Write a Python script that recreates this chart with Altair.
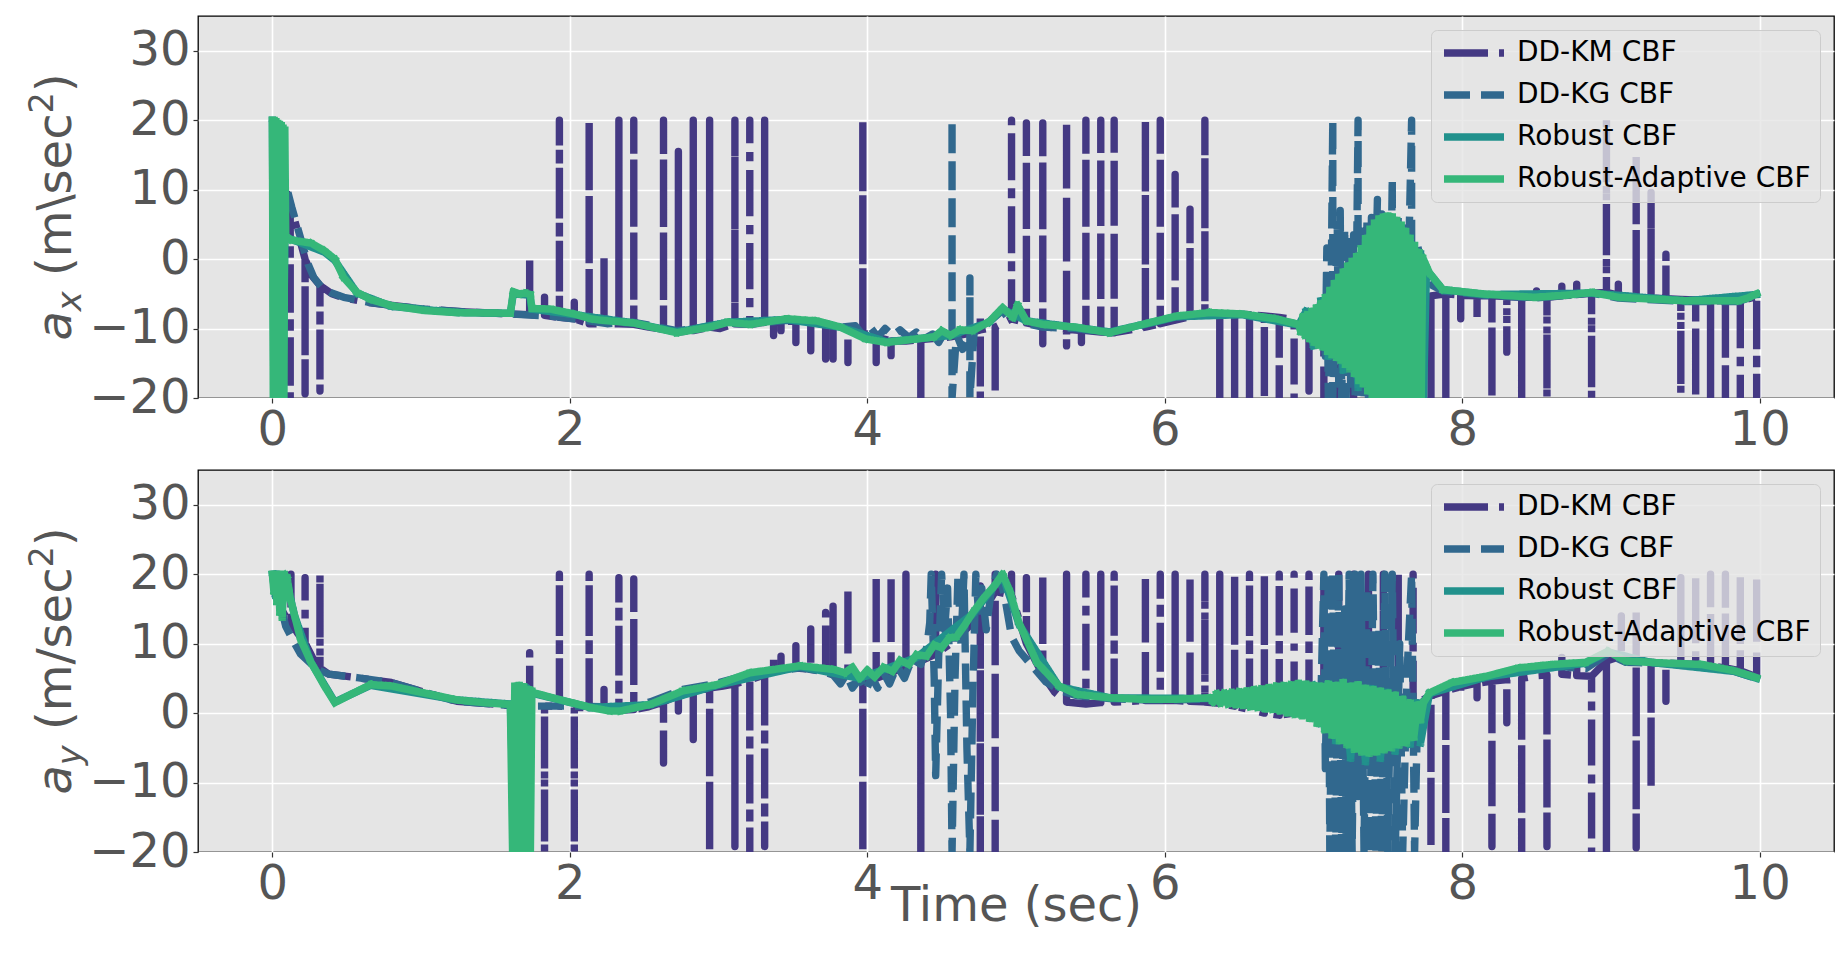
import altair as alt
import pandas as pd

SERIES = ["DD-KM CBF", "DD-KG CBF", "Robust CBF", "Robust-Adaptive CBF"]
COLORS = ["#443983", "#31688e", "#21918c", "#35b779"]
DASHES = [[44, 11, 7, 11], [26, 11], [1, 0], [1, 0]]
CAPS = ["butt", "butt", "square", "square"]
X_TICKS = [0, 2, 4, 6, 8, 10]
Y_TICKS = [-20, -10, 0, 10, 20, 30]
X_DOMAIN = [-0.5, 10.5]
Y_DOMAIN = [-20, 35]

# ---------------- a_x panel ----------------
# DD-KM: (t, base) or (t, base, spike end[, second spike end])
KM_X = [
    (0.00, 20.0), (0.05, 14.0), (0.09, 10.0), (0.12, 8.0, -20.0), (0.17, 4.0),
    (0.22, 0.0, -19.4), (0.27, -2.5), (0.32, -3.8, -19.0), (0.40, -5.0), (0.48, -5.6),
    (0.66, -6.3), (1.02, -7.2), (1.30, -7.6), (1.60, -7.9), (1.73, -8.0, 0.0),
    (1.83, -8.1, -5.5), (1.93, -8.4, 20.0), (2.03, -8.6, -6.2), (2.13, -9.3, 20.0),
    (2.23, -9.3, 0.7), (2.33, -9.3, 20.0), (2.43, -9.4, 20.0), (2.53, -9.8),
    (2.63, -10.1, 20.0), (2.73, -10.5, 15.5), (2.83, -10.3, 20.0), (2.94, -9.8, 20.0),
    (3.01, -10.0), (3.11, -9.3, 20.0), (3.21, -9.4, 20.0), (3.31, -9.1, 20.0),
    (3.37, -9.1, -11.0), (3.42, -9.0, -10.3), (3.52, -8.9, -12.0), (3.62, -9.0, -13.2),
    (3.72, -9.5, -14.4), (3.77, -9.6, -14.4), (3.87, -10.0, -14.9), (3.97, -10.6, 20.0),
    (4.06, -11.2, -14.9), (4.16, -11.8, -13.9), (4.26, -11.8), (4.36, -11.6, -20.0),
    (4.46, -11.4, -9.6), (4.56, -11.2), (4.66, -10.8), (4.76, -10.2, -7.9, -20.0),
    (4.86, -9.8, -19.4), (4.97, -8.6, 20.0), (5.07, -9.2, 19.6), (5.18, -9.7, 19.6, -12.2),
    (5.26, -9.9), (5.34, -10.1, 20.0, -12.5), (5.44, -10.3, -12.0), (5.47, -10.3, 20.0),
    (5.57, -10.5, 20.0), (5.66, -10.6, 20.0), (5.77, -10.2), (5.87, -9.8, 20.0),
    (5.97, -9.3, 20.0), (6.07, -8.8, 12.2), (6.17, -8.3, 7.2), (6.27, -8.0, 20.0),
    (6.37, -7.9, -20.0), (6.47, -7.9, -20.0), (6.57, -8.0, -20.0), (6.67, -8.2, -20.0),
    (6.77, -8.4, -20.0), (6.87, -8.7, -20.0), (6.97, -9.0, -19.0), (7.07, -9.4, -20.0),
    (7.17, -9.6, -20.0), (7.27, -9.8, -20.0), (7.37, -9.5, -20.0), (7.47, -9.0, -20.0),
    (7.57, -8.0, -20.0), (7.67, -6.5, -20.0), (7.79, -5.3, -20.0), (7.89, -5.0, -20.0),
    (7.99, -5.2, -8.6), (8.10, -5.3, -9.1), (8.20, -5.3, -20.0), (8.30, -5.4, -13.4),
    (8.40, -5.5, -20.0), (8.50, -5.5, -4.6), (8.57, -5.5, -20.0), (8.67, -5.3, -3.9),
    (8.77, -5.1, -3.6), (8.87, -4.9, -20.0), (8.97, -4.8, 20.0), (9.05, -5.2, -3.6),
    (9.17, -5.5, 15.1), (9.27, -5.6, 9.6), (9.37, -5.7, 0.7), (9.47, -5.8, -19.4),
    (9.57, -5.9, -20.0), (9.67, -6.0, -20.0), (9.77, -6.0, -20.0), (9.87, -6.0, -20.0),
    (9.98, -5.4, -20.0),
]

KG_X = [
    (0.00, 20.0), (0.04, 15.0), (0.09, 10.8), (0.13, 7.5), (0.17, 4.5), (0.21, 1.5),
    (0.24, -0.7), (0.28, -2.7), (0.33, -4.0), (0.39, -4.8), (0.48, -5.5), (0.66, -6.25),
    (0.85, -6.8), (1.02, -7.2), (1.30, -7.6), (1.60, -7.9), (1.87, -8.2), (2.10, -8.8),
    (2.25, -9.3), (2.43, -9.1), (2.60, -9.8), (2.72, -10.3), (2.94, -9.7), (3.06, -9.2),
    (3.21, -9.4), (3.46, -8.8), (3.66, -9.0), (3.82, -9.8), (3.92, -9.6), (3.97, -10.9),
    (4.02, -9.8), (4.07, -11.2), (4.12, -10.0), (4.17, -11.0), (4.22, -10.2), (4.28, -11.3),
    (4.33, -10.5), (4.38, -11.5), (4.44, -10.8), (4.48, -12.0), (4.52, -10.5), (4.57, -10.8),
    (4.57, 20.0), (4.57, -20.0), (4.60, -10.8), (4.64, -13.0), (4.69, -11.0), (4.69, -2.7),
    (4.69, -20.0), (4.72, -10.0), (4.76, -9.6), (4.82, -9.0), (4.91, -7.4), (4.97, -9.2),
    (5.02, -7.0), (5.07, -9.3), (5.18, -9.8), (5.40, -10.0), (5.63, -10.6), (5.85, -9.5),
    (6.08, -8.3), (6.30, -7.8), (6.52, -8.0), (6.75, -8.7), (6.90, -9.4), (6.98, -9.0),
    (7.03, -10.5), (7.06, -5.8), (7.08, -14.0), (7.09, 1.6), (7.10, -20.0), (7.12, -2.0),
    (7.13, 20.0), (7.13, -20.0), (7.16, 5.0), (7.17, -18.0), (7.18, 7.0), (7.19, -20.0),
    (7.21, 4.5), (7.22, -20.0), (7.24, 2.5), (7.25, -18.0), (7.27, 3.5), (7.28, -20.0),
    (7.30, 20.0), (7.30, -20.0), (7.33, 4.0), (7.34, -20.0), (7.36, 5.5), (7.37, -20.0),
    (7.39, 6.0), (7.40, -20.0), (7.43, 8.6), (7.43, -20.0), (7.46, 6.5), (7.47, -20.0),
    (7.50, 6.5), (7.51, -20.0), (7.53, 11.7), (7.53, -20.0), (7.57, 6.0), (7.58, -20.0),
    (7.61, 4.5), (7.62, -20.0), (7.66, 20.0), (7.66, -20.0), (7.70, 2.0), (7.73, -1.0),
    (7.80, -3.8), (7.87, -4.6), (8.16, -5.2), (8.49, -5.6), (8.87, -4.9), (9.05, -5.6),
    (9.50, -6.1), (9.86, -6.1), (9.98, -5.2),
]

ROB_X = [
    (0.00, 20.0), (0.01, -20.0), (0.02, 19.5), (0.03, -20.0), (0.04, 19.0), (0.05, -20.0),
    (0.06, 18.7), (0.07, -20.0), (0.085, 3.2), (0.17, 2.5), (0.35, 1.0), (0.42, -0.2),
    (0.57, -4.9), (0.80, -6.8), (1.24, -7.7), (1.60, -7.8), (1.62, -5.0), (1.73, -5.2),
    (1.745, -7.2), (2.03, -8.0), (2.43, -9.2), (2.72, -10.5), (3.06, -9.1), (3.46, -8.7),
    (3.82, -9.8), (4.13, -11.9), (4.56, -11.0), (4.82, -9.1), (4.91, -7.2), (5.07, -8.9),
    (5.63, -10.5), (6.08, -8.3), (6.52, -8.0), (6.90, -9.5), (6.95, -7.5), (7.00, -12.5),
    (7.05, -6.0), (7.10, -14.0), (7.15, -3.5), (7.20, -16.0), (7.25, -1.0), (7.30, -18.5),
    (7.35, 2.5), (7.40, -20.0), (7.45, 5.5), (7.50, -20.0), (7.55, 5.5), (7.60, -20.0),
    (7.65, 3.0), (7.70, -20.0), (7.72, 0.8), (7.74, -20.0), (7.76, -1.5), (7.87, -4.4),
    (8.16, -5.1), (8.87, -4.9), (9.50, -6.0), (9.98, -5.1),
]

RA_X = [
    (0.000, 20.0), (0.006, -20.0), (0.012, 20.0), (0.018, -20.0), (0.024, 19.8),
    (0.030, -20.0), (0.036, 19.6), (0.042, -20.0), (0.048, 19.4), (0.054, -20.0),
    (0.060, 19.2), (0.066, -20.0), (0.072, 18.9), (0.078, -20.0), (0.084, 18.6),
    (0.090, 3.4), (0.12, 2.8), (0.17, 2.6), (0.26, 2.3), (0.35, 1.2), (0.42, 0.0),
    (0.48, -2.7), (0.57, -4.8), (0.66, -5.8), (0.80, -6.7), (1.02, -7.4), (1.24, -7.7),
    (1.60, -7.8), (1.62, -4.7), (1.66, -5.0), (1.70, -4.9), (1.735, -5.1), (1.745, -7.1),
    (1.87, -7.2), (2.03, -7.9), (2.14, -8.6), (2.21, -8.8), (2.43, -9.2), (2.72, -10.6),
    (2.94, -9.8), (3.06, -9.1), (3.21, -9.4), (3.46, -8.6), (3.66, -8.9), (3.82, -9.8),
    (3.99, -11.5), (4.13, -12.0), (4.33, -11.5), (4.45, -11.2), (4.50, -10.3), (4.56, -11.0),
    (4.62, -10.2), (4.71, -10.3), (4.82, -9.0), (4.91, -7.0), (4.98, -8.4), (5.01, -6.6),
    (5.07, -8.9), (5.18, -9.4), (5.40, -9.8), (5.63, -10.6), (5.85, -9.4), (6.08, -8.2),
    (6.30, -7.7), (6.52, -7.9), (6.75, -8.6), (6.90, -9.4),
    (6.915, -10.5), (6.93, -8.3), (6.945, -11.0), (6.96, -8.0), (6.975, -11.5), (6.99, -7.5),
    (7.005, -12.0), (7.02, -7.0), (7.035, -12.4), (7.05, -6.4), (7.065, -12.7), (7.08, -5.5),
    (7.095, -13.3), (7.11, -4.5), (7.125, -13.8), (7.14, -3.5), (7.155, -14.2), (7.17, -2.6),
    (7.185, -14.6), (7.20, -1.8), (7.215, -15.2), (7.23, -1.0), (7.245, -15.8), (7.26, -0.3),
    (7.275, -16.5), (7.29, 0.4), (7.305, -17.5), (7.32, 1.5), (7.335, -18.0), (7.35, 3.0),
    (7.365, -19.0), (7.38, 4.3), (7.395, -20.0), (7.41, 5.2), (7.425, -20.0), (7.44, 5.8),
    (7.455, -20.0), (7.47, 6.1), (7.485, -20.0), (7.50, 6.2), (7.515, -20.0), (7.53, 6.1),
    (7.545, -20.0), (7.56, 5.6), (7.575, -20.0), (7.59, 4.9), (7.605, -20.0), (7.62, 4.0),
    (7.635, -20.0), (7.65, 3.0), (7.665, -20.0), (7.68, 2.0), (7.695, -20.0), (7.71, 1.0),
    (7.725, -20.0), (7.735, 0.2), (7.78, -2.0), (7.87, -4.4), (8.16, -5.05), (8.49, -5.5),
    (8.70, -5.2), (8.87, -4.8), (9.05, -5.5), (9.50, -6.0), (9.86, -6.0), (9.92, -5.6),
    (9.98, -5.0),
]

# ---------------- a_y panel ----------------
KM_Y = [
    (0.00, 20.0), (0.06, 15.0), (0.10, 13.5), (0.125, 13.0, 20.0), (0.17, 11.5),
    (0.22, 10.1, 19.5), (0.27, 8.0), (0.32, 6.5, 20.0), (0.38, 5.6), (0.57, 5.1),
    (0.80, 4.4), (1.02, 3.0), (1.24, 1.7), (1.60, 1.1), (1.73, 1.1, 8.7),
    (1.83, 1.0, -20.0), (1.93, 1.0, 20.0), (2.03, 0.8, -20.0), (2.13, 0.8, 20.0),
    (2.23, 0.6, 3.4), (2.33, 0.4, 19.5), (2.43, 0.5, 19.3), (2.53, 0.9), (2.63, 1.6, -7.2),
    (2.73, 2.6, 0.3), (2.83, 3.2, -3.8), (2.94, 3.6, -20.0), (3.03, 3.9), (3.11, 4.2, -19.2),
    (3.21, 4.8, -20.0), (3.31, 5.5, -19.2), (3.37, 6.0, 8.2), (3.42, 6.2, 8.2),
    (3.52, 6.5, 9.7), (3.62, 6.3, 12.1), (3.72, 6.0, 14.5), (3.77, 5.9, 15.4),
    (3.87, 5.5, 18.3), (3.97, 4.8, -20.0), (4.06, 5.0, 20.0), (4.16, 5.8, 20.0),
    (4.26, 6.8, 20.0), (4.36, 7.5, -20.0), (4.46, 8.5, 20.0), (4.56, 10.0), (4.66, 12.0),
    (4.76, 14.0, 18.3, -20.0), (4.86, 17.5, 20.0, -20.0), (4.97, 17.0, 20.0),
    (5.07, 10.0, 19.5), (5.18, 5.5, 20.0), (5.26, 3.0), (5.34, 1.6, 20.0), (5.47, 1.3, 20.0),
    (5.57, 1.5, 20.0), (5.66, 1.6, 20.0), (5.77, 1.7), (5.87, 1.8, 20.0), (5.97, 1.8, 20.0),
    (6.07, 1.8, 20.0), (6.17, 1.7, 20.0), (6.27, 1.6, 20.0), (6.37, 1.4, 20.0),
    (6.47, 1.0, 20.0), (6.57, 0.5, 20.0), (6.67, 0.0, 20.0), (6.77, -0.3, 20.0),
    (6.87, 0.0, 20.0), (6.97, 0.5, 20.0), (7.07, 1.0, 20.0), (7.17, 1.0, 20.0),
    (7.27, 0.8, 20.0), (7.37, 0.5, 20.0), (7.47, 0.5, 20.0), (7.57, 0.8, 20.0),
    (7.67, 1.2, 20.0), (7.79, 2.5, -19.4), (7.89, 3.2, -20.0), (7.99, 3.8, 2.9),
    (8.10, 4.3, 2.2), (8.20, 4.6, -19.2), (8.30, 4.8, -1.4), (8.40, 5.0, -20.0), (8.50, 5.4),
    (8.57, 5.5, -19.2), (8.67, 5.6, 8.0), (8.77, 5.4, 8.0), (8.87, 5.3, -20.0),
    (8.97, 7.5, -20.0), (9.07, 8.2, 14.0), (9.17, 7.6, 15.0, -19.4), (9.27, 7.3, -10.8),
    (9.37, 7.2, 1.7), (9.47, 7.1, 19.5), (9.57, 7.0, 20.0), (9.67, 6.8, 20.0),
    (9.77, 6.5, 20.0), (9.87, 6.1, 20.0), (9.98, 5.2, 20.0),
]

KG_Y = [
    (0.00, 20.0), (0.05, 16.0), (0.09, 12.5), (0.15, 10.0), (0.19, 8.5), (0.30, 6.3),
    (0.38, 5.6), (0.57, 5.1), (0.80, 4.4), (1.02, 3.0), (1.24, 1.7), (1.60, 1.1), (1.78, 1.0),
    (2.05, 1.0), (2.27, 0.9), (2.34, 0.6), (2.54, 1.6), (2.76, 3.4), (2.99, 4.3), (3.21, 5.6),
    (3.55, 6.5), (3.70, 6.0), (3.77, 5.5), (3.82, 4.2), (3.86, 5.6), (3.90, 3.6), (3.95, 5.0),
    (3.99, 3.2), (4.03, 5.2), (4.07, 3.6), (4.11, 5.8), (4.15, 4.2), (4.20, 6.8), (4.25, 5.0),
    (4.30, 7.8), (4.36, 7.0), (4.40, 9.5), (4.42, 13.0), (4.43, 20.0), (4.45, 5.0),
    (4.46, -9.0), (4.48, 8.0), (4.50, 20.0), (4.52, 12.0), (4.54, 18.0), (4.56, 0.0),
    (4.57, -20.0), (4.59, 5.0), (4.61, 20.0), (4.63, 10.0), (4.65, 20.0), (4.67, -5.0),
    (4.69, -20.0), (4.71, 3.0), (4.73, 20.0), (4.75, 14.0), (4.77, 18.0), (4.80, 12.0),
    (4.83, 17.0), (4.87, 20.0), (4.90, 19.0), (4.93, 16.0), (4.97, 11.0), (5.02, 9.0),
    (5.10, 7.0), (5.20, 4.5), (5.30, 3.2), (5.41, 2.5), (5.63, 2.1), (5.85, 1.9), (6.08, 1.9),
    (6.30, 2.0), (6.52, 1.8), (6.75, 1.2), (6.97, 0.8), (7.05, 2.0), (7.07, 20.0),
    (7.08, -8.0), (7.10, 20.0), (7.11, -20.0), (7.13, 20.0), (7.15, -20.0), (7.17, 20.0),
    (7.19, -20.0), (7.21, 15.0), (7.22, -20.0), (7.24, 20.0), (7.26, -20.0), (7.28, 20.0),
    (7.30, -12.0), (7.32, 20.0), (7.34, -20.0), (7.36, 18.0), (7.38, -20.0), (7.40, 20.0),
    (7.42, -20.0), (7.44, 12.0), (7.46, -20.0), (7.48, 20.0), (7.50, -20.0), (7.53, 20.0),
    (7.55, -20.0), (7.58, 10.0), (7.60, -20.0), (7.63, 6.0), (7.66, 20.0), (7.68, -20.0),
    (7.70, 0.0), (7.73, 1.5), (7.80, 3.0), (7.93, 4.2), (8.16, 5.1), (8.38, 6.3), (8.60, 6.8),
    (8.83, 6.4), (8.98, 8.5), (9.10, 7.3), (9.27, 7.2), (9.61, 6.9), (9.83, 6.0), (9.98, 5.0),
]

ROB_Y = [
    (0.00, 20.0), (0.02, 17.0), (0.04, 20.0), (0.06, 14.5), (0.09, 19.5), (0.15, 14.0),
    (0.26, 7.3), (0.42, 1.6), (0.66, 4.0), (1.24, 1.9), (1.60, 1.3), (1.63, -20.0),
    (1.66, 3.8), (1.69, -20.0), (1.72, 3.5), (1.76, 2.8), (2.14, 0.8), (2.54, 1.2),
    (2.99, 4.0), (3.55, 6.7), (3.95, 5.0), (4.33, 8.0), (4.71, 14.3), (4.91, 19.8),
    (5.02, 12.8), (5.29, 3.8), (5.63, 2.2), (6.30, 2.1), (6.75, 1.5), (7.00, 4.0),
    (7.05, -1.5), (7.10, 4.2), (7.15, -4.0), (7.20, 4.4), (7.25, -6.5), (7.30, 4.0),
    (7.35, -7.0), (7.40, 3.5), (7.45, -6.5), (7.50, 3.0), (7.55, -5.5), (7.60, 2.0),
    (7.65, -4.5), (7.70, 1.5), (7.72, -4.3), (7.78, 2.8), (8.16, 5.2), (8.83, 7.2),
    (8.98, 8.8), (9.27, 7.3), (9.83, 6.0), (9.98, 5.0),
]

RA_Y = [
    (0.000, 20.0), (0.010, 17.5), (0.020, 20.0), (0.030, 16.0), (0.040, 20.0), (0.050, 14.5),
    (0.060, 20.0), (0.066, 13.8), (0.080, 20.0), (0.100, 19.5), (0.12, 16.5), (0.15, 14.0),
    (0.19, 10.6), (0.26, 7.3), (0.35, 3.9), (0.42, 1.5), (0.51, 2.5), (0.66, 4.1), (0.80, 3.9),
    (1.02, 2.9), (1.24, 1.9), (1.42, 1.5), (1.60, 1.25), (1.615, -20.0), (1.63, 3.9),
    (1.645, -20.0), (1.66, 4.0), (1.675, -20.0), (1.69, 3.8), (1.705, -20.0), (1.72, 3.4),
    (1.735, -20.0), (1.745, 3.2), (1.76, 2.9), (1.92, 2.0), (2.14, 0.8), (2.27, 0.3),
    (2.34, 0.3), (2.54, 1.25), (2.76, 3.2), (2.99, 4.1), (3.21, 5.8), (3.55, 6.8), (3.77, 6.3),
    (3.85, 5.8), (3.90, 6.6), (3.95, 5.0), (4.00, 6.2), (4.05, 5.2), (4.11, 6.6), (4.17, 6.0),
    (4.22, 7.6), (4.28, 7.0), (4.33, 8.4), (4.40, 8.2), (4.45, 9.8), (4.50, 9.4), (4.55, 10.8),
    (4.60, 11.0), (4.65, 12.5), (4.71, 14.5), (4.78, 16.5), (4.85, 18.2), (4.91, 20.0),
    (4.96, 17.5), (5.02, 13.0), (5.14, 7.3), (5.29, 3.9), (5.41, 2.7), (5.63, 2.2),
    (5.85, 2.0), (6.08, 2.0), (6.30, 2.2),
    (6.325, 1.6), (6.35, 2.8), (6.375, 1.4), (6.40, 2.9), (6.425, 1.3), (6.45, 3.0),
    (6.475, 1.2), (6.50, 3.1), (6.525, 1.1), (6.55, 3.2), (6.575, 0.9), (6.60, 3.4),
    (6.625, 0.8), (6.65, 3.5), (6.675, 0.6), (6.70, 3.7), (6.725, 0.5), (6.75, 3.9),
    (6.775, 0.3), (6.80, 4.0), (6.825, 0.0), (6.85, 4.1), (6.875, -0.2), (6.90, 4.3),
    (6.925, -0.4), (6.95, 4.2), (6.975, -0.8), (7.00, 4.0), (7.025, -1.5), (7.05, 3.9),
    (7.075, -2.4), (7.10, 4.2), (7.125, -3.2), (7.15, 4.0), (7.175, -4.0), (7.20, 4.4),
    (7.225, -4.6), (7.25, 3.9), (7.275, -5.2), (7.30, 4.1), (7.325, -5.6), (7.35, 3.6),
    (7.375, -5.8), (7.40, 3.4), (7.425, -5.6), (7.45, 3.2), (7.475, -5.3), (7.50, 2.9),
    (7.525, -5.0), (7.55, 2.6), (7.575, -4.6), (7.60, 2.0), (7.625, -4.3), (7.65, 1.5),
    (7.675, -3.5), (7.70, 1.2), (7.72, -1.0), (7.74, 1.5), (7.78, 2.9), (7.93, 4.4),
    (8.16, 5.3), (8.38, 6.5), (8.60, 7.0), (8.83, 7.3), (8.98, 8.9), (9.10, 7.5), (9.27, 7.3),
    (9.61, 7.0), (9.83, 6.1), (9.98, 5.1),
]


def expand_spikes(entries):
    pts = []
    for e in entries:
        t, base = e[0], e[1]
        pts.append((t, base))
        for peak in e[2:]:
            pts.append((t, peak))
        if len(e) > 2:
            pts.append((t, base))
    return pts


def build_frame(series_points):
    rows = []
    for name, pts in zip(SERIES, series_points):
        for i, (t, v) in enumerate(pts):
            rows.append({"series": name, "t": t, "v": v, "i": i})
    return pd.DataFrame(rows)


DF_X = build_frame([expand_spikes(KM_X), KG_X, ROB_X, RA_X])
DF_Y = build_frame([expand_spikes(KM_Y), KG_Y, ROB_Y, RA_Y])

GREY = "#555555"
FONT = "DejaVu Sans"
W, H = 1636, 382
LW = 7.4
MAIN, SCRIPT = 48, 33.6
EM = {"a": 0.613, "x": 0.592, "y": 0.592, " ": 0.318, "(": 0.390, "m": 0.974,
      "\\": 0.337, "/": 0.337, "s": 0.521, "e": 0.615, "c": 0.550, "2": 0.636, ")": 0.390}

color_scale = alt.Scale(domain=SERIES, range=COLORS)
dash_scale = alt.Scale(domain=SERIES, range=DASHES)

legend = alt.Legend(
    title=None, orient="top-right", offset=14, labelFont=FONT, labelFontSize=28,
    labelColor="black", symbolType="stroke", symbolSize=3600, symbolStrokeWidth=LW,
    clipHeight=28, rowPadding=14, padding=9, labelOffset=9,
    fillColor="rgba(229,229,229,0.8)", strokeColor="#cccccc", cornerRadius=6,
    labelLimit=0,
)


def width(s, size):
    return sum(EM[ch] for ch in s) * size


def ylabel_layers(sub, mid):
    """Mathtext-like label: a_sub (m<mid>sec^2), rotated, built from text pieces."""
    pieces = [
        ("a", MAIN, "italic", 0.0, 0.0),
        (sub, SCRIPT, "italic", 10.0, 0.0),
        ("(m" + mid + "sec", MAIN, "normal", 0.0, width(" ", MAIN)),
        ("2", SCRIPT, "normal", -18.0, 0.0),
        (")", MAIN, "normal", 0.0, 0.0),
    ]
    total = sum(width(p[0], p[1]) + p[4] for p in pieces)
    pos = H / 2 + total / 2
    layers = []
    one = pd.DataFrame({"k": [0]})
    for text, size, style, shift, pre in pieces:
        pos -= pre
        layers.append(
            alt.Chart(one).mark_text(
                text=text, font=FONT, fontSize=size, fontStyle=style, angle=270,
                align="left", baseline="alphabetic", color=GREY,
            ).encode(x=alt.value(-127 + shift), y=alt.value(pos))
        )
        pos -= width(text, size)
    return layers


def panel(df, sub, mid, xtitle):
    x_axis = alt.Axis(values=X_TICKS, format="d", title=xtitle,
                      titleBaseline="alphabetic", titleY=68)
    layers = []
    for k, s in enumerate(SERIES):
        layers.append(
            alt.Chart(df[df.series == s]).mark_line(
                strokeWidth=LW, clip=True, strokeJoin="round", strokeCap=CAPS[k]
            ).encode(
                x=alt.X("t:Q", scale=alt.Scale(domain=X_DOMAIN, nice=False, zero=False),
                        axis=x_axis),
                y=alt.Y("v:Q", scale=alt.Scale(domain=Y_DOMAIN, nice=False, zero=False),
                        axis=alt.Axis(values=Y_TICKS, format="d", title=None)),
                color=alt.Color("series:N", scale=color_scale, legend=legend),
                strokeDash=alt.StrokeDash("series:N", scale=dash_scale, legend=legend),
                order=alt.Order("i:Q"),
            )
        )
    return alt.layer(*layers, *ylabel_layers(sub, mid)).properties(width=W, height=H)


top = panel(DF_X, "x", "\\", None)
bottom = panel(DF_Y, "y", "/", "Time (sec)")

chart = (
    alt.vconcat(top, bottom, spacing=72, bounds="flush")
    .resolve_legend(color="independent", strokeDash="independent")
    .properties(padding={"left": 17, "top": 7, "right": 5, "bottom": 5})
    .configure(font=FONT)
    .configure_view(fill="#E5E5E5", stroke="black", strokeWidth=1.3)
    .configure_axis(
        labelFont=FONT, labelFontSize=48, labelColor=GREY, labelPadding=3,
        tickSize=5, tickColor="#333333", tickWidth=1.2, domain=False,
        grid=True, gridColor="white", gridWidth=1.6,
        titleFont=FONT, titleFontSize=48, titleColor=GREY, titleFontWeight="normal",
    )
)

chart.save("out.html", embed_options={"renderer": "svg", "actions": False})
